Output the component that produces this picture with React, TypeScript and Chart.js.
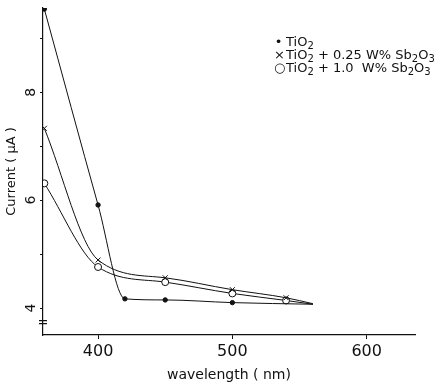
import React, { useEffect, useRef } from "react";
import { Chart, registerables } from "chart.js";

Chart.register(...registerables);

// Data
const wavelengthTiO2 = [360, 400, 420, 450, 500, 560];
const currentTiO2 = [9.54, 5.91, 4.17, 4.15, 4.1, 4.07];
const wavelength025 = [360, 400, 450, 500, 540, 560];
const current025 = [7.33, 4.89, 4.56, 4.34, 4.19, 4.08];
const wavelength10 = [360, 400, 450, 500, 540, 560];
const current10 = [6.31, 4.76, 4.48, 4.27, 4.14, 4.07];
const markedTiO2 = [true, true, true, true, true, false];
const marked025 = [true, true, true, true, true, false];
const marked10 = [true, true, true, true, true, false];
const xTickLabels = [400, 500, 600];
const yTickMarks = [4, 5, 6, 7, 8, 9];
const yTickLabels = [4, 6, 8];
const xTitle = "wavelength ( nm)";
const yTitle = "Current ( μA )";

const FONT = "'DejaVu Sans', sans-serif";
const INK = "#111";

const toPoints = (xs: number[], ys: number[]) => xs.map((x, i) => ({ x, y: ys[i] }));
const radii = (flags: boolean[], r: number) => flags.map((f) => (f ? r : 0));

const axisBreak = {
  id: "axisBreak",
  afterDraw(chart: any) {
    const { ctx, scales } = chart;
    const x = scales.x.left;
    const y = scales.y.getPixelForValue(3.74);
    ctx.save();
    ctx.strokeStyle = INK;
    ctx.lineWidth = 1.2;
    ctx.beginPath();
    ctx.moveTo(x - 4, y - 1.5);
    ctx.lineTo(x + 4, y - 1.5);
    ctx.moveTo(x - 4, y + 1.5);
    ctx.lineTo(x + 4, y + 1.5);
    ctx.stroke();
    ctx.restore();
  },
};

export default function App() {
  const ref = useRef<HTMLCanvasElement | null>(null);

  useEffect(() => {
    if (!ref.current) return;
    const chart = new Chart(ref.current, {
      type: "line",
      data: {
        datasets: [
          {
            label: "TiO2",
            data: toPoints(wavelengthTiO2, currentTiO2),
            borderColor: INK,
            borderWidth: 1,
            backgroundColor: INK,
            pointBackgroundColor: INK,
            pointBorderColor: INK,
            pointStyle: "circle",
            pointRadius: radii(markedTiO2, 2.2),
            cubicInterpolationMode: "monotone",
          },
          {
            label: "TiO2 + 0.25 W% Sb2O3",
            data: toPoints(wavelength025, current025),
            borderColor: INK,
            borderWidth: 1,
            pointBackgroundColor: "#fff",
            pointBorderColor: INK,
            pointBorderWidth: 1,
            pointStyle: "crossRot",
            pointRadius: radii(marked025, 3.5),
            cubicInterpolationMode: "monotone",
          },
          {
            label: "TiO2 + 1.0 W% Sb2O3",
            data: toPoints(wavelength10, current10),
            borderColor: INK,
            borderWidth: 1,
            pointBackgroundColor: "#fff",
            pointBorderColor: INK,
            pointBorderWidth: 1,
            pointStyle: "circle",
            pointRadius: radii(marked10, 3.5),
            cubicInterpolationMode: "monotone",
          },
        ],
      },
      options: {
        animation: false,
        responsive: false,
        maintainAspectRatio: false,
        layout: { padding: { top: 8, right: 21, left: 0, bottom: 0 } },
        plugins: { legend: { display: false }, tooltip: { enabled: false } },
        scales: {
          x: {
            type: "linear",
            min: 359,
            max: 636,
            afterFit: (s: any) => {
              s.height = 49;
            },
            afterBuildTicks: (s: any) => {
              s.ticks = xTickLabels.map((v) => ({ value: v }));
            },
            border: { display: true, color: INK, width: 1.2 },
            grid: { drawOnChartArea: false, drawTicks: true, tickLength: 4, color: INK },
            ticks: {
              color: INK,
              font: { family: FONT, size: 16 },
              padding: 3,
              maxRotation: 0,
              minRotation: 0,
              callback: (v: any) => String(v),
            },
            title: {
              display: true,
              text: xTitle,
              color: INK,
              font: { family: FONT, size: 14 },
              padding: { top: 0, bottom: 0 },
            },
          },
          y: {
            type: "linear",
            min: 3.5,
            max: 9.56,
            afterFit: (s: any) => {
              s.width = 43;
              s.paddingTop = 0;
              s.paddingBottom = 0;
            },
            afterBuildTicks: (s: any) => {
              s.ticks = yTickMarks.map((v) => ({ value: v }));
            },
            border: { display: true, color: INK, width: 1.2 },
            grid: { drawOnChartArea: false, drawTicks: true, tickLength: 3, color: INK },
            ticks: {
              color: INK,
              font: { family: FONT, size: 14 },
              padding: 4,
              minRotation: 90,
              maxRotation: 90,
              crossAlign: "center",
              callback: (v: any) => (yTickLabels.includes(v) ? String(v) : ""),
            },
            title: {
              display: true,
              text: yTitle,
              color: INK,
              font: { family: FONT, size: 13 },
              padding: { top: 4, bottom: 0 },
            },
          },
        },
      },
      plugins: [axisBreak],
    } as any);
    return () => chart.destroy();
  }, []);

  const row: React.CSSProperties = { height: 13, lineHeight: "13px", whiteSpace: "nowrap" };
  const mk: React.CSSProperties = { display: "inline-block", width: 9, textAlign: "center", marginRight: 3 };
  const sub: React.CSSProperties = { fontSize: 10, verticalAlign: -3, lineHeight: 0 };

  return (
    <div style={{ position: "fixed", left: 0, top: 0, width: 436, height: 384, background: "#fff" }}>
      <canvas ref={ref} width={436} height={384} style={{ width: 436, height: 384, display: "block" }} />
      <div
        style={{
          position: "absolute",
          left: 274,
          top: 35,
          fontFamily: FONT,
          fontSize: 13,
          color: INK,
        }}
      >
        <div style={row}>
          <span style={mk}>•</span>TiO<span style={sub}>2</span>
        </div>
        <div style={row}>
          <span style={mk}>×</span>TiO<span style={sub}>2</span> + 0.25 W% Sb<span style={sub}>2</span>O<span style={sub}>3</span>
        </div>
        <div style={row}>
          <span style={mk}>○</span>TiO<span style={sub}>2</span> + 1.0 &nbsp;W% Sb<span style={sub}>2</span>O<span style={sub}>3</span>
        </div>
      </div>
    </div>
  );
}
